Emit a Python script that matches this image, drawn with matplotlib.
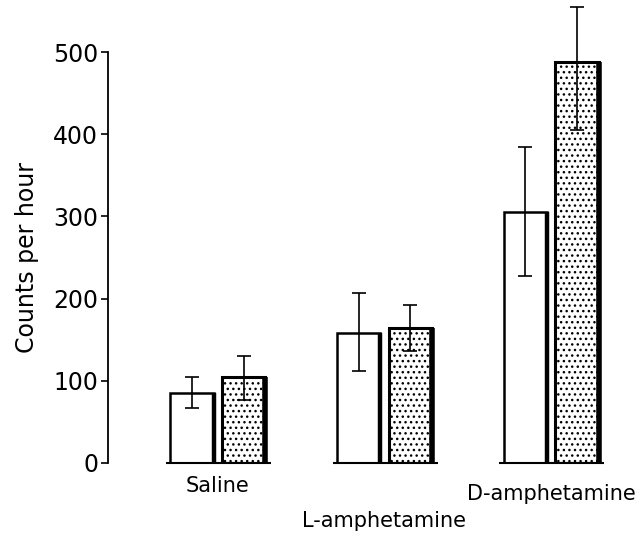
import matplotlib.pyplot as plt
import numpy as np

plt.rcParams['font.family'] = ['DejaVu Sans']
plt.rcParams['hatch.linewidth'] = 1.0

groups = ['Saline', 'L-amphetamine', 'D-amphetamine']
open_vals = [85, 158, 305]
open_lo = [67, 112, 228]
open_hi = [105, 207, 384]
dot_vals = [105, 164, 488]
dot_lo = [77, 136, 405]
dot_hi = [130, 192, 555]

fig = plt.figure(figsize=(6.41, 5.35), dpi=100)
ax = fig.add_axes([108/641, 72/535, 533/641, 411/535])

x = np.arange(len(groups))
off = 0.155
w = 0.26

# open bars
ax.bar(x - off, open_vals, w, color='white', edgecolor='black', linewidth=1.8)
# stippled bars
ax.bar(x + off, dot_vals, w, color='white', edgecolor='black', linewidth=2.2,
       hatch='...')
# heavier right-hand edges
ax.vlines(x - off + w/2, 0, open_vals, color='black', lw=3.2)
ax.vlines(x + off + w/2, 0, dot_vals, color='black', lw=4)

ax.errorbar(x - off, open_vals,
            yerr=[np.subtract(open_vals, open_lo), np.subtract(open_hi, open_vals)],
            fmt='none', ecolor='black', elinewidth=1.2, capsize=5, capthick=1.2,
            clip_on=False)
ax.errorbar(x + off, dot_vals,
            yerr=[np.subtract(dot_vals, dot_lo), np.subtract(dot_hi, dot_vals)],
            fmt='none', ecolor='black', elinewidth=1.2, capsize=5, capthick=1.2,
            clip_on=False)

# baseline under each pair
ax.hlines(np.zeros(len(x)), x - 0.31, x + 0.32, color='black', lw=1.5, clip_on=False)

ax.set_xlim(-0.66, 2.54)
ax.set_ylim(0, 500)
ax.set_yticks([0, 100, 200, 300, 400, 500])
ax.tick_params(axis='y', labelsize=17, length=5, width=1.2, direction='out', pad=2)
ax.set_xticks([])
for s in ['top', 'right', 'bottom']:
    ax.spines[s].set_visible(False)
ax.spines['left'].set_linewidth(1.3)
ax.set_ylabel('Counts per hour', fontsize=17, labelpad=10)

label_y = [-0.055, -0.14, -0.075]
for xi, name, ly in zip(x, groups, label_y):
    ax.text(xi, ly, name, transform=ax.get_xaxis_transform(), ha='center',
            va='center', fontsize=15)

fig.savefig('out.png', dpi=100)
